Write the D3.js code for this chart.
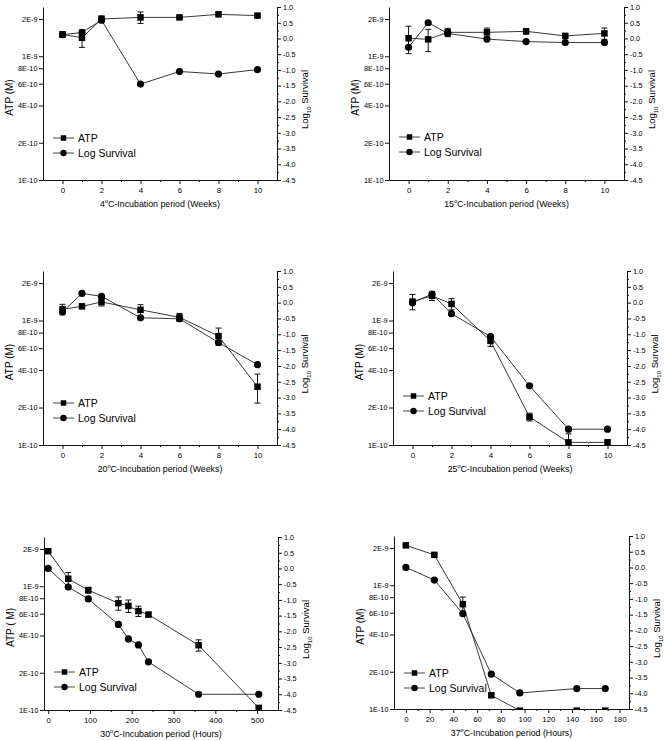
<!DOCTYPE html>
<html>
<head>
<meta charset="utf-8">
<script src="https://cdn.jsdelivr.net/npm/d3@7"></script>
<style>
body { margin: 0; background: #fff; }
svg { display: block; }
text { font-family: "Liberation Sans", Arial, sans-serif; fill: #000; }
</style>
</head>
<body>
<div id="chart"></div>
<script>
const width = 664;
const height = 741;

// x values
const weeks = [0, 1, 2, 4, 6, 8, 10];
const hours30 = [0, 48, 96, 168, 192, 216, 240, 360, 504];
const hours37 = [0, 24, 48, 72, 96, 144, 168];

// ATP (M), its error, and log10 survival for each temperature
const atp4 = [1.50e-9, 1.41e-9, 2.00e-9, 2.06e-9, 2.06e-9, 2.18e-9, 2.13e-9];
const atpErr4 = [0.08e-9, 0.23e-9, 0.12e-9, 0.22e-9, 0.05e-9, 0.04e-9, 0.04e-9];
const surv4 = [0.12, 0.19, 0.58, -1.45, -1.05, -1.13, -0.99];

const atp15 = [1.40e-9, 1.37e-9, 1.56e-9, 1.56e-9, 1.59e-9, 1.46e-9, 1.53e-9];
const atpErr15 = [0.35e-9, 0.28e-9, 0.12e-9, 0.13e-9, 0.08e-9, 0.04e-9, 0.16e-9];
const surv15 = [-0.28, 0.5, 0.16, -0.02, -0.1, -0.13, -0.13];

const atp20 = [1.23e-9, 1.30e-9, 1.41e-9, 1.22e-9, 1.06e-9, 7.5e-10, 2.94e-10];
const atpErr20 = [0.12e-9, 0.05e-9, 0.10e-9, 0.12e-9, 0.08e-9, 1.2e-10, 0.77e-10];
const surv20 = [-0.29, 0.29, 0.2, -0.48, -0.51, -1.26, -1.96];

const atp25 = [1.42e-9, 1.58e-9, 1.36e-9, 6.86e-10, 1.68e-10, 1.05e-10, 1.05e-10];
const atpErr25 = [0.2e-9, 0.13e-9, 0.14e-9, 0.66e-10, 0.12e-10, 0.18e-10, 0.05e-10];
const surv25 = [0.0, 0.27, -0.35, -1.07, -2.63, -4.0, -4.0];

const atp30 = [1.92e-9, 1.15e-9, 9.3e-10, 7.3e-10, 6.94e-10, 6.3e-10, 5.9e-10, 3.34e-10, 1.04e-10];
const atpErr30 = [0.03e-9, 0.14e-9, 0.05e-9, 0.9e-10, 0.8e-10, 0.6e-10, 0.25e-10, 0.35e-10, 0.02e-10];
const surv30 = [0.0, -0.59, -0.97, -1.78, -2.24, -2.43, -2.97, -4.0, -4.0];

const atp37 = [2.1e-9, 1.76e-9, 7.03e-10, 1.29e-10, 0.97e-10, 0.97e-10, 0.97e-10];
const atpErr37 = [0.03e-9, 0.04e-9, 1.0e-10, 0.05e-10, 0, 0, 0];
const surv37 = [0.0, -0.4, -1.47, -3.39, -3.99, -3.85, -3.85];

// tick labels
const leftTickVals = [1e-10, 2e-10, 4e-10, 6e-10, 8e-10, 1e-9, 2e-9];
const leftTickLabels = ["1E-10", "2E-10", "4E-10", "6E-10", "8E-10", "1E-9", "2E-9"];
const rightTickVals = d3.range(-4.5, 1.01, 0.5);
const rightMinorVals = d3.range(-4.25, 1, 0.5);
const weekTicks = [0, 2, 4, 6, 8, 10];
const weekMinor = [1, 3, 5, 7, 9];

const panels = [
  { temp: "4", unit: "Weeks", xs: weeks, atp: atp4, err: atpErr4, surv: surv4, yLabel: "ATP (M)",
    xDomain: [-1, 11], xTicks: weekTicks, xMinor: weekMinor,
    left: 43, right: 277, top: 7, bottom: 180, legendY: 138 },
  { temp: "15", unit: "Weeks", xs: weeks, atp: atp15, err: atpErr15, surv: surv15, yLabel: "ATP (M)",
    xDomain: [-1, 11], xTicks: weekTicks, xMinor: weekMinor,
    left: 389, right: 624, top: 7, bottom: 180, legendY: 137 },
  { temp: "20", unit: "Weeks", xs: weeks, atp: atp20, err: atpErr20, surv: surv20, yLabel: "ATP (M)",
    xDomain: [-1, 11], xTicks: weekTicks, xMinor: weekMinor,
    left: 43, right: 277, top: 271, bottom: 445, legendY: 403 },
  { temp: "25", unit: "Weeks", xs: weeks, atp: atp25, err: atpErr25, surv: surv25, yLabel: "ATP (M)",
    xDomain: [-1, 11], xTicks: weekTicks, xMinor: weekMinor,
    left: 393, right: 627, top: 271, bottom: 445, legendY: 396 },
  { temp: "30", unit: "Hours", xs: hours30, atp: atp30, err: atpErr30, surv: surv30, yLabel: "ATP ( M)",
    xDomain: [-10, 550], xTicks: d3.range(0, 501, 100), xMinor: d3.range(50, 550, 100),
    left: 44, right: 278, top: 537, bottom: 710, legendY: 672 },
  { temp: "37", unit: "Hours", xs: hours37, atp: atp37, err: atpErr37, surv: surv37, yLabel: "ATP (M)",
    xDomain: [-10, 188], xTicks: d3.range(0, 181, 20), xMinor: d3.range(10, 181, 20),
    left: 394, right: 629, top: 536, bottom: 709, legendY: 673 }
];

let svg = d3.select("#chart").append("svg").attr("width", width).attr("height", height);

function styleAxis(sel, size) {
  sel.selectAll("path, line").attr("stroke", "#111").attr("stroke-width", 1);
  sel.selectAll("text").attr("font-size", size).attr("font-family", '"Liberation Sans", Arial, sans-serif').attr("fill", "#000");
}

function square(g, cx, cy, s) {
  g.append("rect").attr("x", cx - s / 2).attr("y", cy - s / 2).attr("width", s).attr("height", s).attr("fill", "#000");
}

function drawPanel(p, idx) {
  const g = svg.append("g");
  const x = d3.scaleLinear().domain(p.xDomain).range([p.left, p.right]);
  const yL = d3.scaleLog().domain([1e-10, 2.5e-9]).range([p.bottom, p.top]);
  const yR = d3.scaleLinear().domain([-4.5, 1]).range([p.bottom, p.top]);

  // axes
  g.append("g").attr("transform", `translate(0,${p.bottom})`)
    .call(d3.axisBottom(x).tickValues(p.xTicks).tickSize(4).tickSizeOuter(0).tickPadding(3).tickFormat(d3.format("d")))
    .call(s => styleAxis(s, 7.8));
  g.append("g").attr("transform", `translate(0,${p.bottom})`)
    .call(d3.axisBottom(x).tickValues(p.xMinor).tickSize(2).tickFormat(""))
    .call(s => { s.select(".domain").remove(); styleAxis(s, 8); });

  g.append("g").attr("transform", `translate(${p.left},0)`)
    .call(d3.axisLeft(yL).tickValues(leftTickVals).tickSize(4).tickSizeOuter(0).tickPadding(1.5)
      .tickFormat((d, i) => leftTickLabels[i]))
    .call(s => styleAxis(s, 7.3));

  g.append("g").attr("transform", `translate(${p.right},0)`)
    .call(d3.axisRight(yR).tickValues(rightTickVals).tickSize(4).tickSizeOuter(0).tickPadding(2)
      .tickFormat(d => d.toFixed(1)))
    .call(s => styleAxis(s, 7.3));
  g.append("g").attr("transform", `translate(${p.right},0)`)
    .call(d3.axisRight(yR).tickValues(rightMinorVals).tickSize(2).tickFormat(""))
    .call(s => { s.select(".domain").remove(); styleAxis(s, 8); });

  // titles
  const xt = g.append("text").attr("x", (p.left + p.right) / 2).attr("y", p.bottom + 27)
    .attr("text-anchor", "middle").attr("font-size", 8.8);
  xt.append("tspan").text(p.temp);
  xt.append("tspan").attr("font-size", 5.5).attr("dy", -4).text("o");
  xt.append("tspan").attr("dy", 4).text(`C-Incubation period (${p.unit})`);

  g.append("text").attr("transform", `translate(${p.left - 30},${(p.top + p.bottom) / 2 + 4}) rotate(-90)`)
    .attr("text-anchor", "middle").attr("font-size", 10).text(p.yLabel);

  const yt = g.append("text").attr("transform", `translate(${p.right + 31},${(p.top + p.bottom) / 2 + 6}) rotate(-90)`)
    .attr("text-anchor", "middle").attr("font-size", 9.5);
  yt.append("tspan").text("Log");
  yt.append("tspan").attr("font-size", 6).attr("dy", 3).text("10");
  yt.append("tspan").attr("dy", -3).text(" Survival");

  // data, clipped at the bottom of the plot area
  const clipId = "clip" + idx;
  svg.append("clipPath").attr("id", clipId).append("rect")
    .attr("x", p.left - 10).attr("y", p.top - 10)
    .attr("width", p.right - p.left + 20).attr("height", p.bottom - p.top + 10);
  const d = g.append("g").attr("clip-path", `url(#${clipId})`);

  const atpLine = d3.line().x((v, i) => x(p.xs[i])).y(v => yL(v));
  const survLine = d3.line().x((v, i) => x(p.xs[i])).y(v => yR(v));
  d.append("path").attr("d", atpLine(p.atp)).attr("fill", "none").attr("stroke", "#222").attr("stroke-width", 0.9);
  d.append("path").attr("d", survLine(p.surv)).attr("fill", "none").attr("stroke", "#222").attr("stroke-width", 0.9);

  p.atp.forEach((v, i) => {
    if (p.err[i] > 0) {
      const cx = x(p.xs[i]);
      const hi = yL(v + p.err[i]);
      const lo = yL(Math.max(v - p.err[i], 1e-11));
      d.append("line").attr("x1", cx).attr("x2", cx).attr("y1", hi).attr("y2", lo).attr("stroke", "#111").attr("stroke-width", 1);
      d.append("line").attr("x1", cx - 3).attr("x2", cx + 3).attr("y1", hi).attr("y2", hi).attr("stroke", "#111").attr("stroke-width", 1);
      d.append("line").attr("x1", cx - 3).attr("x2", cx + 3).attr("y1", lo).attr("y2", lo).attr("stroke", "#111").attr("stroke-width", 1);
    }
  });
  p.surv.forEach((v, i) => {
    d.append("circle").attr("cx", x(p.xs[i])).attr("cy", yR(v)).attr("r", 3.6).attr("fill", "#000");
  });
  p.atp.forEach((v, i) => square(d, x(p.xs[i]), yL(v), 6.5));

  // legend
  const lx = p.left + 10;
  [["ATP", "sq"], ["Log Survival", "ci"]].forEach((item, k) => {
    const ly = p.legendY + k * 15;
    g.append("line").attr("x1", lx).attr("x2", lx + 21).attr("y1", ly).attr("y2", ly).attr("stroke", "#333").attr("stroke-width", 0.9);
    if (item[1] === "sq") square(g, lx + 10.5, ly, 5.5);
    else g.append("circle").attr("cx", lx + 10.5).attr("cy", ly).attr("r", 3.2).attr("fill", "#000");
    g.append("text").attr("x", lx + 25).attr("y", ly + 4).attr("font-size", 10.5).text(item[0]);
  });
}

panels.forEach(drawPanel);
</script>
</body>
</html>
